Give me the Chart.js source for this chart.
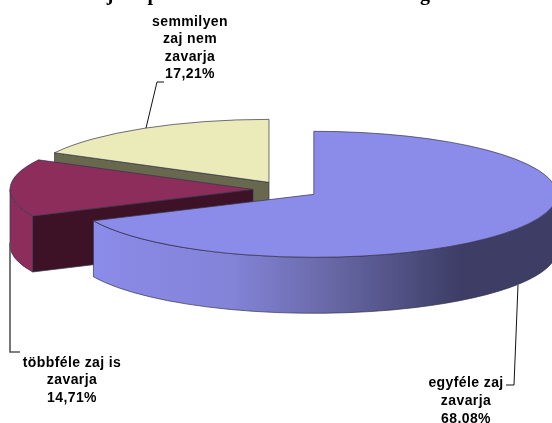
<!DOCTYPE html>
<html>
<head>
<meta charset="utf-8">
<style>
  html, body { margin: 0; padding: 0; background: #fff; }
  canvas { display: block; }
</style>
<script src="https://cdn.jsdelivr.net/npm/chart.js@4/dist/chart.umd.min.js"></script>
</head>
<body>
<canvas id="myChart" width="552" height="423"></canvas>
<script>
const categories = ['egyféle zaj zavarja', 'többféle zaj is zavarja', 'semmilyen zaj nem zavarja'];
const values = [68.08, 14.71, 17.21];
const topColors = ['#8b8be9', '#8c2d5c', '#ebebb9'];
const cutColors = ['#3d3d66', '#3d1226', '#68684f'];

// the reference title is cut off at the top, only these descenders can be read
const titleGlyphs = [['j', 110], ['p', 153], ['g', 425]];

const labelLines = [
    ['egyféle zaj', 'zavarja'],
    ['többféle zaj is', 'zavarja'],
    ['semmilyen', 'zaj nem', 'zavarja'],
];
const labelSpots = [[466, 383, 18], [72, 363, 17.5], [190, 22, 17.5]];
const leaders = [
    [[518, 285], [514, 385], [506, 385]],
    [[10, 243], [10, 352], [20, 352]],
    [[146, 128], [157, 82], [164, 82]],
];

// 3d look: flatten the arcs, pull them apart and add walls
const centerX = 286;
const centerY = 189.7;
const radiusX = 243;
const radiusY = 63;
const depth = 56;
const explode = 33 / 243;

function sideFill(ctx, i) {
    if (i === 0) {
        const g = ctx.createLinearGradient(95, 0, 552, 0);
        g.addColorStop(0, '#8b8be9');
        g.addColorStop(0.3, '#8383d8');
        g.addColorStop(0.5, '#6a6aaa');
        g.addColorStop(0.8, '#3d3d66');
        g.addColorStop(1, '#3d3d66');
        return g;
    }
    return topColors[i];
}

const pie3d = {
    id: 'pie3d',
    beforeDatasetsDraw(chart) {
        const ctx = chart.ctx;
        const arcs = chart.getDatasetMeta(0).data;
        [2, 1, 0].forEach(i => {
            const arc = arcs[i];
            const sx = radiusX / arc.outerRadius;
            const sy = radiusY / arc.outerRadius;
            const mid = (arc.startAngle + arc.endAngle) / 2;
            const ox = centerX + Math.cos(mid) * explode * radiusX;
            const oy = centerY + Math.sin(mid) * explode * radiusY;
            const rimX = a => ox + Math.cos(a) * radiusX;
            const rimY = a => oy + Math.sin(a) * radiusY;

            ctx.save();
            ctx.lineWidth = 0.7;
            ctx.strokeStyle = '#33334a';

            // cut walls facing the viewer
            [[arc.startAngle, 1], [arc.endAngle, -1]].forEach(([a, side]) => {
                if (Math.cos(a) * side > -0.001) return;
                ctx.beginPath();
                ctx.moveTo(ox, oy);
                ctx.lineTo(rimX(a), rimY(a));
                ctx.lineTo(rimX(a), rimY(a) + depth);
                ctx.lineTo(ox, oy + depth);
                ctx.closePath();
                ctx.fillStyle = cutColors[i];
                ctx.fill();
                ctx.stroke();
            });

            // outer wall, only the front half of the rim
            const a0 = Math.max(arc.startAngle, 0);
            const a1 = Math.min(arc.endAngle, Math.PI);
            if (a1 > a0) {
                ctx.beginPath();
                ctx.ellipse(ox, oy, radiusX, radiusY, 0, a0, a1);
                ctx.ellipse(ox, oy + depth, radiusX, radiusY, 0, a1, a0, true);
                ctx.closePath();
                ctx.fillStyle = sideFill(ctx, i);
                ctx.fill();
                ctx.stroke();
            }

            // top face is the chart.js arc itself
            ctx.save();
            ctx.translate(ox, oy);
            ctx.scale(sx, sy);
            ctx.translate(-arc.x, -arc.y);
            arc.draw(ctx);
            ctx.restore();

            ctx.beginPath();
            ctx.moveTo(ox, oy);
            ctx.ellipse(ox, oy, radiusX, radiusY, 0, arc.startAngle, arc.endAngle);
            ctx.closePath();
            ctx.stroke();
            ctx.restore();
        });
        return false;
    },
    afterDraw(chart) {
        const ctx = chart.ctx;
        ctx.save();

        ctx.fillStyle = '#000';
        ctx.font = 'bold 20px "Liberation Serif"';
        ctx.textAlign = 'center';
        titleGlyphs.forEach(([ch, x]) => ctx.fillText(ch, x, 0));

        leaders.forEach((pts, i) => {
            ctx.beginPath();
            pts.forEach(([x, y], k) => k ? ctx.lineTo(x, y) : ctx.moveTo(x, y));
            ctx.lineWidth = i === 1 ? 1.6 : 1;
            ctx.strokeStyle = i === 1 ? '#555' : '#111';
            ctx.stroke();
        });

        ctx.font = 'bold 14px "Liberation Sans"';
        ctx.letterSpacing = '0.4px';
        ctx.textBaseline = 'middle';
        labelLines.forEach((lines, i) => {
            const [x, y, gap] = labelSpots[i];
            const pct = values[i].toFixed(2).replace('.', ',') + '%';
            [...lines, pct].forEach((line, k) => ctx.fillText(line, x, y + k * gap));
        });
        ctx.restore();
    },
};

const config = {
    type: 'pie',
    data: {
        labels: categories,
        datasets: [{
            data: values,
            backgroundColor: topColors,
            borderWidth: 0,
        }],
    },
    options: {
        responsive: false,
        animation: false,
        plugins: {
            legend: { display: false },
            tooltip: { enabled: false },
        },
    },
    plugins: [pie3d],
};

const myChart = new Chart(document.querySelector('#myChart').getContext('2d'), config);
</script>
</body>
</html>
